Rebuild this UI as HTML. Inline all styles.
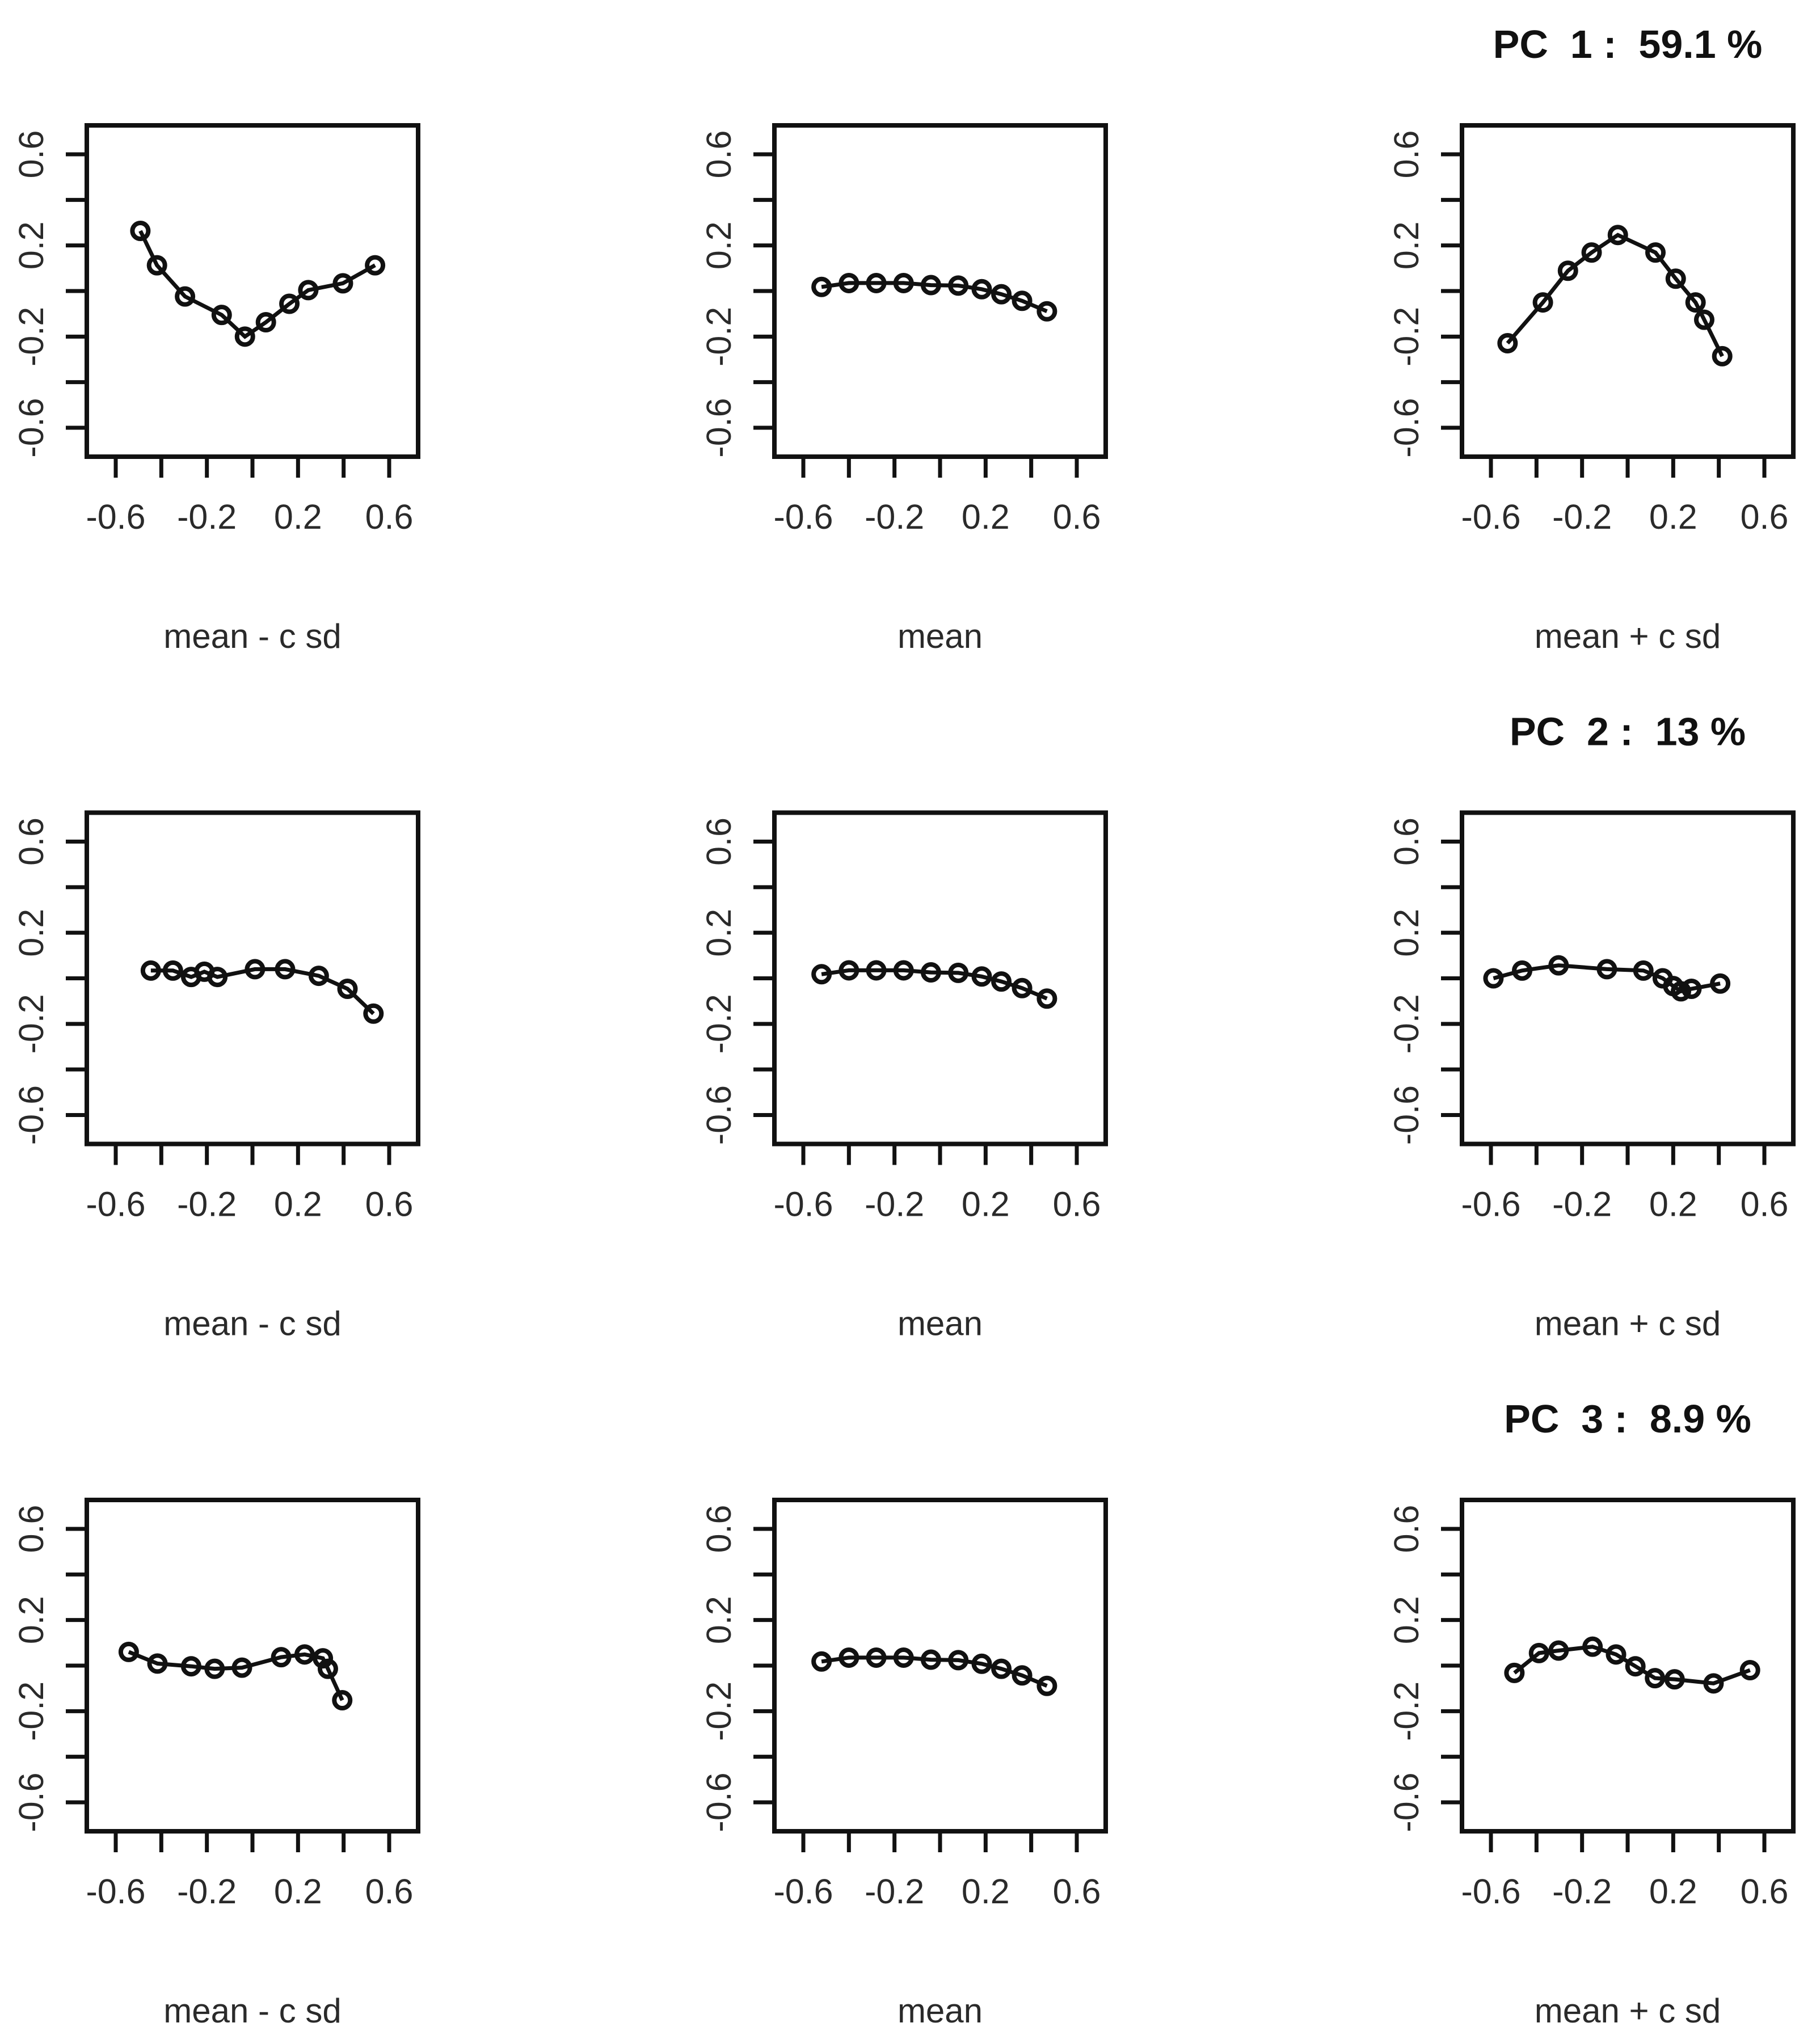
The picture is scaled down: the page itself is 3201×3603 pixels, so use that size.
<!DOCTYPE html>
<html><head><meta charset="utf-8"><style>
html,body{margin:0;padding:0;background:#fff;}
svg{display:block;}
text{font-family:"Liberation Sans",sans-serif;fill:#2a2a2a;white-space:pre;}
</style></head><body>
<svg id="fig" width="3201" height="3603" viewBox="0 0 3201 3603" xmlns="http://www.w3.org/2000/svg" xml:space="preserve"></svg>
<script>
// ---- data ----
const pcTitles = ["PC  1 :  59.1 %", "PC  2 :  13 %", "PC  3 :  8.9 %"];
const colLabels = ["mean - c sd", "mean", "mean + c sd"];
const tickValues = [-0.6, -0.4, -0.2, 0, 0.2, 0.4, 0.6];
const tickLabels = ["-0.6", "-0.2", "0.2", "0.6"];
const tickLabelValues = [-0.6, -0.2, 0.2, 0.6];

const meanX = [-0.52, -0.40, -0.28, -0.16, -0.04, 0.08, 0.183, 0.269, 0.36, 0.469];
const meanY = [0.018, 0.035, 0.035, 0.035, 0.026, 0.024, 0.008, -0.014, -0.043, -0.089];

const pc1MinusX = [-0.492, -0.419, -0.296, -0.135, -0.033, 0.059, 0.162, 0.245, 0.397, 0.538];
const pc1MinusY = [0.264, 0.113, -0.024, -0.105, -0.200, -0.137, -0.056, 0.004, 0.034, 0.113];
const pc1PlusX = [-0.527, -0.372, -0.262, -0.158, -0.043, 0.122, 0.211, 0.298, 0.336, 0.415];
const pc1PlusY = [-0.229, -0.05, 0.089, 0.169, 0.246, 0.169, 0.054, -0.05, -0.126, -0.286];

const pc2MinusX = [-0.446, -0.349, -0.269, -0.211, -0.154, 0.011, 0.143, 0.291, 0.417, 0.531];
const pc2MinusY = [0.034, 0.034, 0.006, 0.029, 0.006, 0.040, 0.040, 0.011, -0.046, -0.155];
const pc2PlusX = [-0.589, -0.463, -0.303, -0.091, 0.069, 0.154, 0.20, 0.234, 0.28, 0.406];
const pc2PlusY = [0.0, 0.034, 0.057, 0.040, 0.034, 0.0, -0.034, -0.057, -0.046, -0.023];

const pc3MinusX = [-0.543, -0.417, -0.269, -0.166, -0.046, 0.126, 0.229, 0.309, 0.331, 0.394];
const pc3MinusY = [0.060, 0.009, -0.003, -0.014, -0.009, 0.037, 0.049, 0.032, -0.014, -0.152];
const pc3PlusX = [-0.497, -0.389, -0.303, -0.154, -0.051, 0.034, 0.12, 0.206, 0.377, 0.537];
const pc3PlusY = [-0.032, 0.055, 0.066, 0.083, 0.049, -0.003, -0.055, -0.060, -0.078, -0.020];

const panelX = [[pc1MinusX, meanX, pc1PlusX],[pc2MinusX, meanX, pc2PlusX],[pc3MinusX, meanX, pc3PlusX]];
const panelY = [[pc1MinusY, meanY, pc1PlusY],[pc2MinusY, meanY, pc2PlusY],[pc3MinusY, meanY, pc3PlusY]];

// ---- layout ----
const NS = "http://www.w3.org/2000/svg";
const svg = document.getElementById("fig");
const L0 = 153, T0 = 221, CS = 1212, RS = 1211.5, BOX = 584, PAD = 51;
function mk(tag, attrs, parent){ const e=document.createElementNS(NS,tag); for(const k in attrs) e.setAttribute(k,attrs[k]); (parent||svg).appendChild(e); return e; }

for (let r=0;r<3;r++){
  for (let c=0;c<3;c++){
    const left = L0 + c*CS, top = T0 + r*RS;
    const sx = v => left + PAD + (v+0.6)/1.2*(BOX-2*PAD);
    const sy = v => top + PAD + (0.6-v)/1.2*(BOX-2*PAD);
    const g = mk("g",{});
    
    
    const box = mk("rect",{x:left,y:top,width:BOX,height:BOX,fill:"none",stroke:"#111","stroke-width":8},g);
    
    
    tickValues.forEach(v=>{
      const xt = mk("line",{x1:sx(v),x2:sx(v),y1:top+BOX,y2:top+BOX+37,stroke:"#111","stroke-width":7},g);
      
      
      const yt = mk("line",{x1:left-37,x2:left,y1:sy(v),y2:sy(v),stroke:"#111","stroke-width":7},g);
      
      
    });
    tickLabelValues.forEach((v,i)=>{
      const xl = mk("text",{x:sx(v),y:top+689+22,"text-anchor":"middle","font-size":61},g);
      xl.textContent = tickLabels[i];
      
      
      const cx = left-99, cy = sy(v);
      const yl = mk("text",{x:cx,y:cy+22,"text-anchor":"middle","font-size":61,transform:`rotate(-90 ${cx} ${cy})`},g);
      yl.textContent = tickLabels[i];
      
      
    });
    const xlab = mk("text",{x:left+BOX/2,y:top+899+22,"text-anchor":"middle","font-size":60},g);
    xlab.textContent = colLabels[c];
    
    
    if (c===2){
      const t = mk("text",{x:left+BOX/2,y:top-144+25,"text-anchor":"middle","font-size":70,"font-weight":"bold"},g);
      t.setAttribute("style","fill:#111");
      t.textContent = pcTitles[r];
      
      
    }
    const xs = panelX[r][c], ys = panelY[r][c];
    const pts = xs.map((x,i)=>sx(x).toFixed(1)+","+sy(ys[i]).toFixed(1)).join(" ");
    const line = mk("polyline",{points:pts,fill:"none",stroke:"#111","stroke-width":7},g);
    
    
    xs.forEach((x,i)=>{
      const p = mk("circle",{cx:sx(x),cy:sy(ys[i]),r:14,fill:"none",stroke:"#111","stroke-width":8},g);
      
      
    });
  }
}
</script>
</body></html>
